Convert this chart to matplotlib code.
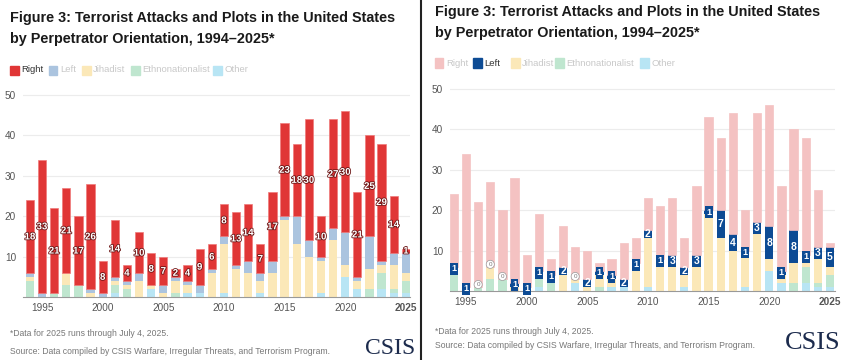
import matplotlib
matplotlib.use("Agg")
import matplotlib.pyplot as plt
import matplotlib.patheffects as pe
from matplotlib.patches import Rectangle
import numpy as np

plt.rcParams["font.family"] = ["Liberation Sans", "DejaVu Sans"]

years = list(range(1994, 2026))
other = [0, 0, 0, 0, 0, 0, 0, 1, 0, 0, 2, 0, 0, 1, 1, 0,
         1, 0, 0, 1, 0, 0, 0, 0, 1, 0, 5, 2, 0, 2, 1, 1]
ethno = [4, 0, 1, 3, 3, 0, 0, 2, 2, 0, 0, 0, 1, 0, 0, 0,
         0, 0, 0, 0, 0, 0, 0, 0, 0, 0, 0, 0, 2, 4, 1, 3]
jihadist = [1, 0, 0, 3, 0, 1, 0, 1, 1, 4, 1, 1, 3, 2, 0, 6,
            12, 7, 6, 3, 6, 19, 13, 10, 8, 14, 3, 2, 5, 2, 6, 2]
left = [1, 1, 0, 0, 0, 1, 1, 1, 1, 2, 0, 2, 1, 1, 2, 1,
        2, 1, 3, 2, 3, 1, 7, 4, 1, 3, 8, 1, 8, 1, 3, 5]
right = [18, 33, 21, 21, 17, 26, 8, 14, 4, 10, 8, 7, 2, 4, 9, 6,
         8, 13, 14, 7, 17, 23, 18, 30, 10, 27, 30, 21, 25, 29, 14, 1]
series_names = ["Right", "Left", "Jihadist", "Ethnonationalist", "Other"]

C_OTHER = "#b8e5f4"
C_ETHNO = "#bfe6cf"
C_JIH = "#fbe8b8"
C_LEFT_PALE = "#abc4df"
C_RIGHT = "#e03636"
C_RIGHT_PALE = "#f4c2c2"
C_LEFT = "#0d4b94"

fig = plt.figure(figsize=(8.44, 3.6), dpi=100)
fig.patch.set_facecolor("white")
W, H = 844, 360

x = np.array(years)
o = np.array(other)
e = np.array(ethno)
j = np.array(jihadist)
l = np.array(left)
r = np.array(right)


def px_axes(x0, y0, x1, y1):
    # pixel box (top-left origin) -> figure axes
    return fig.add_axes([x0 / W, 1 - y1 / H, (x1 - x0) / W, (y1 - y0) / H])


def style(ax, xlim):
    ax.set_xlim(*xlim)
    ax.set_ylim(0, 51)
    ax.set_yticks([10, 20, 30, 40, 50])
    ax.set_xticks([1995, 2000, 2005, 2010, 2015, 2020, 2025])
    ax.set_xticklabels(["1995", "2000", "2005", "2010", "2015", "2020", "2025"])
    ax.get_xticklabels()[-1].set_fontweight("bold")
    ax.get_xticklabels()[-1].set_color("#222222")
    for s in ["top", "right", "left"]:
        ax.spines[s].set_visible(False)
    ax.spines["bottom"].set_color("#999999")
    ax.spines["bottom"].set_linewidth(0.8)
    ax.tick_params(axis="both", length=0, labelsize=7.2, colors="#555555")
    ax.tick_params(axis="x", pad=4)
    ax.tick_params(axis="y", pad=5)
    ax.grid(axis="y", color="#ececec", linewidth=0.8)
    ax.set_axisbelow(True)
    ax.set_facecolor("none")


def stack(ax, c_left, c_right, right_edge):
    w = 0.68
    b = np.zeros(len(x))
    for vals, c in [(o, C_OTHER), (e, C_ETHNO), (j, C_JIH), (l, c_left)]:
        ax.bar(x, vals, w, bottom=b, color=c, linewidth=0)
        b = b + vals
    ax.bar(x, r, w, bottom=b, color=c_right, edgecolor=right_edge, linewidth=0.5)


# ---------- left panel: right-wing highlighted ----------
axL = px_axes(23, 91, 410, 297)
style(axL, (1993.43, 2025.34))
stack(axL, C_LEFT_PALE, C_RIGHT, "#f07a7a")
base = o + e + j + l
for xi, bi, ri in zip(x, base, r):
    axL.text(xi, bi + ri / 2, str(ri), ha="center", va="center", fontsize=7,
             fontweight="bold", color="white",
             path_effects=[pe.withStroke(linewidth=1.2, foreground="#6b1515")])

# ---------- right panel: left-wing highlighted ----------
axR = px_axes(450, 85, 835, 291)
style(axR, (1993.68, 2025.42))
stack(axR, C_LEFT, C_RIGHT_PALE, C_RIGHT_PALE)
base = o + e + j
for xi, bi, li in zip(x, base, l):
    if li == 0:
        axR.text(xi, bi + 0.6, "0", ha="center", va="center", fontsize=4.5,
                 color="#777777",
                 bbox=dict(boxstyle="circle,pad=0.25", fc="white", ec="#999999", lw=0.5))
    elif li == 1:
        axR.text(xi, bi + 0.5, "1", ha="center", va="center", fontsize=6.5,
                 fontweight="bold", color="white",
                 bbox=dict(boxstyle="square,pad=0.15", fc=C_LEFT, ec="none"))
    else:
        axR.text(xi, bi + li / 2, str(li), ha="center", va="center", fontsize=7.5,
                 fontweight="bold", color="white")

# ---------- titles, legends, notes ----------
title = "Figure 3: Terrorist Attacks and Plots in the United States\nby Perpetrator Orientation, 1994\u20132025*"
fig.text(10 / W, 1 - 11 / H, title, ha="left", va="top", fontsize=10.4,
         fontweight="bold", color="#1a1a1a", linespacing=1.6)
fig.text(435 / W, 1 - 5 / H, title, ha="left", va="top", fontsize=10.4,
         fontweight="bold", color="#1a1a1a", linespacing=1.6)


def legend(y, xs, colors, txtcolors):
    for xs_, c, tc, name in zip(xs, colors, txtcolors, series_names):
        fig.patches.append(Rectangle((xs_ / W, 1 - (y + 4.5) / H), 8.5 / W, 9 / H,
                                     transform=fig.transFigure, color=c))
        fig.text((xs_ + 11) / W, 1 - y / H, name, ha="left", va="center",
                 fontsize=6.8, color=tc)


faded = "#c8c8c8"
legend(70, [10, 49, 82, 131, 213],
       [C_RIGHT, C_LEFT_PALE, C_JIH, C_ETHNO, C_OTHER],
       ["#333333", faded, faded, faded, faded])
legend(63, [435, 473, 511, 555, 640],
       [C_RIGHT_PALE, C_LEFT, C_JIH, C_ETHNO, C_OTHER],
       [faded, "#333333", faded, faded, faded])

note1 = "*Data for 2025 runs through July 4, 2025."
note2 = "Source: Data compiled by CSIS Warfare, Irregular Threats, and Terrorism Program."
fig.text(10 / W, 1 - 334 / H, note1, ha="left", va="center", fontsize=6.2, color="#777777")
fig.text(10 / W, 1 - 352 / H, note2, ha="left", va="center", fontsize=6.2, color="#777777")
fig.text(435 / W, 1 - 331 / H, note1, ha="left", va="center", fontsize=6.2, color="#777777")
fig.text(435 / W, 1 - 346 / H, note2, ha="left", va="center", fontsize=6.2, color="#777777")

fig.text(415 / W, 1 - 349 / H, "CSIS", ha="right", va="center", fontsize=17,
         family="Liberation Serif", color="#1c2b4d")
fig.text(840 / W, 1 - 343 / H, "CSIS", ha="right", va="center", fontsize=19,
         family="Liberation Serif", color="#1c2b4d")

fig.add_artist(plt.Line2D([420.7 / W, 420.7 / W], [0, 1], transform=fig.transFigure,
                          color="#222222", linewidth=1.5))

fig.savefig("out.png", dpi=100, facecolor="white")
